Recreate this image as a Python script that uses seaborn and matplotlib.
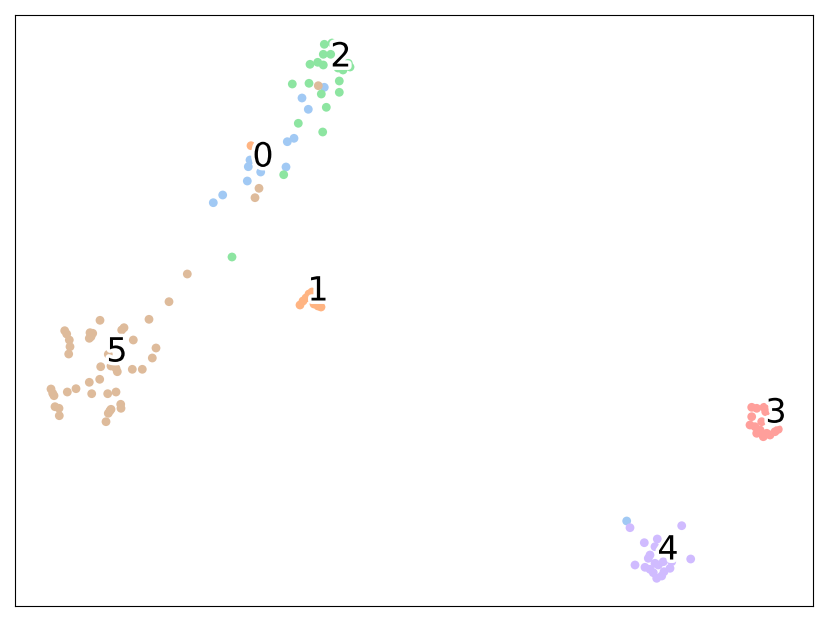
import matplotlib
matplotlib.use("Agg")
import matplotlib.pyplot as plt
import matplotlib.patheffects as PathEffects
import numpy as np
import pandas as pd
import seaborn as sns

# 2-D embedding coordinates, grouped by true class
x0 = [324.3, 302, 308.3, 287.3, 294, 286, 248.3, 250, 260.7, 247.3, 222.7, 213.3, 626.7]
y0 = [87.3, 98, 109.3, 141.7, 138.3, 167, 166.7, 160, 172, 181, 195, 202.7, 521]
x1 = [300, 303, 306, 309, 312, 316, 318, 321, 314, 251]
y1 = [305, 301, 298, 294, 292, 293, 306, 307, 304, 145.7]
x2 = [324.3, 332, 323.3, 330.7, 310, 317.7, 323.3, 340, 345, 338, 348.3, 339.3,
      292.3, 309, 339.3, 321.3, 326.3, 298.3, 322.7, 283.7, 232, 350, 343]
y2 = [44.3, 43, 54.3, 54.3, 64.3, 62.3, 65, 60, 64, 68, 63.3, 81,
      84, 83.3, 92.3, 94, 107.3, 123.3, 132, 174.7, 257, 67, 70]
x3 = [751.7, 756.7, 764, 765.7, 751.7, 750, 755, 756.7, 763.3, 770, 775, 778.3, 760, 766.7, 761.7]
y3 = [407.3, 408.3, 407.3, 411.7, 416.7, 425, 426.7, 433.3, 436.7, 435, 431.7, 429.3, 430, 433.3, 421.7]
x4 = [630, 681.7, 644.3, 657.3, 655, 650, 648.3, 635, 645, 650, 653.3, 656.7,
      661.7, 664, 670, 663.3, 671.7, 690.7, 658.3, 655]
y4 = [527.7, 525.7, 542.7, 539, 546.7, 555, 558.3, 565, 567.3, 569.3, 572.7, 578.3,
      576, 571.7, 568.3, 561.7, 561.7, 559, 565, 563.3]
x5 = [187.3, 169, 149, 100, 64.7, 66.7, 69.3, 70, 68.7, 90, 92.7, 89.3, 91, 124, 121.7,
      133.3, 156, 152.3, 108.3, 100.7, 111, 116, 117.3, 132.3, 142.3, 89.3, 99.7, 76,
      67.3, 51, 52.7, 54, 91.7, 107.7, 116, 55, 59, 59.3, 110, 108.3, 106, 111, 120.7, 121,
      318.3, 259, 255]
y5 = [274, 301.7, 319.3, 320.3, 330.7, 334, 340, 346.7, 354, 332.7, 333.3, 338.3, 336.7,
      327.7, 330, 340, 348, 358, 354.3, 366.7, 366, 368.3, 371.7, 369.3, 369.3, 382.3,
      379.3, 388.7, 392, 389, 393.3, 395.7, 393.7, 393.7, 392, 406.7, 408.3, 415.7, 410.7,
      413.3, 421.7, 409.3, 404.3, 408.3, 85.7, 188.3, 197.7]

# cluster label positions
label_names = ["0", "1", "2", "3", "4", "5"]
label_x = [263, 318, 341, 776, 668, 117]
label_y = [157, 291, 57, 413, 550, 352]

H = 623
xs = [x0, x1, x2, x3, x4, x5]
ys = [y0, y1, y2, y3, y4, y5]
frames = []
for k, (xx, yy) in enumerate(zip(xs, ys)):
    frames.append(pd.DataFrame({"x": xx, "y": [H - v for v in yy], "cls": k}))
df = pd.concat(frames, ignore_index=True)

fig = plt.figure(figsize=(8.3, 6.23), dpi=100)
ax = fig.add_axes([15 / 830, 17 / 623, 798 / 830, 591 / 623])
palette = sns.color_palette("pastel", 10)
sns.scatterplot(data=df, x="x", y="y", hue="cls", palette=palette[:6], s=40,
                linewidth=0, legend=False, ax=ax)
ax.set_xlim(15, 813)
ax.set_ylim(17, 608)
ax.set_xticks([])
ax.set_yticks([])
ax.set_xlabel("")
ax.set_ylabel("")

for name, lx, ly in zip(label_names, label_x, label_y):
    txt = ax.text(lx, H - ly, name, fontsize=24, ha="center", va="center")
    txt.set_path_effects([PathEffects.Stroke(linewidth=5, foreground="w"),
                          PathEffects.Normal()])

fig.savefig("out.png", dpi=100)
